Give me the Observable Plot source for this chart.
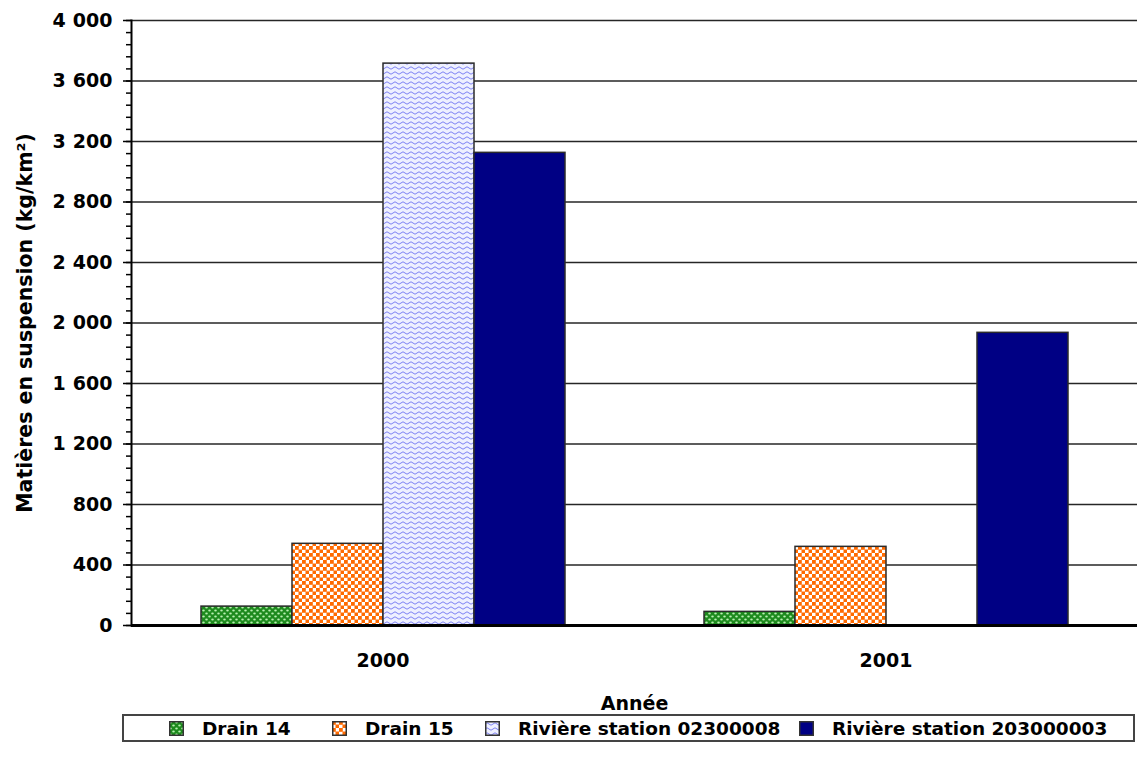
<!DOCTYPE html>
<html>
<head>
<meta charset="utf-8">
<script src="https://cdn.jsdelivr.net/npm/d3@7"></script>
<script src="https://cdn.jsdelivr.net/npm/@observablehq/plot@0.6"></script>
<style>
  body { margin: 0; background: #fff; font-family: "DejaVu Sans", sans-serif; }
  #chart svg { display: block; }
  #legend {
    position: relative;
    box-sizing: border-box;
    margin-left: 122px;
    margin-top: 2px;
    width: 1013px;
    height: 28px;
    border: 2px solid #444;
    font-weight: bold;
    font-size: 18.5px;
    color: #000;
    white-space: nowrap;
  }
  #legend .item { position: absolute; top: 0; height: 24px; display: flex; align-items: center; }
  #legend .item svg { margin-right: 18px; flex-shrink: 0; }
</style>
</head>
<body>
<!-- fill patterns shared by the bars and the legend swatches -->
<svg width="0" height="0" style="position:absolute">
  <defs>
    <pattern id="pat-drain14" width="6" height="6" patternUnits="userSpaceOnUse">
      <rect width="6" height="6" fill="#1d8a1d"/>
      <ellipse cx="1.5" cy="1.5" rx="1.3" ry="1.1" fill="#b8f0b0"/>
      <ellipse cx="4.5" cy="4.5" rx="1.3" ry="1.1" fill="#b8f0b0"/>
    </pattern>
    <pattern id="pat-drain15" width="7" height="7" patternUnits="userSpaceOnUse">
      <rect width="7" height="7" fill="#ffffff"/>
      <rect x="0" y="0" width="3.8" height="3.8" fill="#ff6a00"/>
      <rect x="3.5" y="3.5" width="3.8" height="3.8" fill="#ff6a00"/>
    </pattern>
    <pattern id="pat-riv1" width="8" height="5" patternUnits="userSpaceOnUse">
      <rect width="8" height="5" fill="#eef0ff"/>
      <path d="M0 3 Q2 0.6 4 3 T8 3" fill="none" stroke="#6f73f2" stroke-width="0.9"/>
    </pattern>
    <pattern id="pat-riv2" width="4" height="4" patternUnits="userSpaceOnUse">
      <rect width="4" height="4" fill="#000084"/>
    </pattern>
  </defs>
</svg>
<div id="chart"></div>
<div id="legend"></div>
<script>
// Suspended solids per year and station (kg/km²)
const years = ["2000", "2001"];
const series = ["Drain 14", "Drain 15", "Rivière station 02300008", "Rivière station 203000003"];
const drain14 = [125, 90];
const drain15 = [540, 520];
const riviere02300008 = [3715, null];
const riviere203000003 = [3125, 1935];
const yTicks = [0, 400, 800, 1200, 1600, 2000, 2400, 2800, 3200, 3600, 4000];
const fills = ["url(#pat-drain14)", "url(#pat-drain15)", "url(#pat-riv1)", "url(#pat-riv2)"];

const seriesValues = [drain14, drain15, riviere02300008, riviere203000003];
const rows = [];
years.forEach((year, i) => {
  series.forEach((s, j) => {
    const v = seriesValues[j][i];
    if (v != null) rows.push({year, series: s, value: v});
  });
});

// thousands separated by a space, French style
const fmt = d => d3.format(",")(d).replace(/,/g, "\u2008");

const chart = Plot.plot({
  width: 1137,
  height: 712,
  marginLeft: 130,
  marginRight: 0,
  marginTop: 20,
  marginBottom: 87,
  style: {fontFamily: "'DejaVu Sans', sans-serif", fontWeight: "bold", color: "#000", background: "transparent", overflow: "visible"},
  fx: {domain: years, padding: 0},
  x: {domain: series, paddingInner: 0, paddingOuter: 0.74, axis: null},
  y: {domain: [0, 4000]},
  color: {domain: series, range: fills},
  marks: [
    Plot.gridY(yTicks, {stroke: "#262626", strokeOpacity: 1, strokeWidth: 1.6}),
    Plot.barY(rows, {fx: "year", x: "series", y: "value", fill: "series", stroke: "#2b2b2b", strokeWidth: 1.5, inset: 0}),
    Plot.ruleY([0], {stroke: "#000", strokeWidth: 3}),
    Plot.axisY(d3.range(0, 4001, 80), {tickSize: 5, text: null, label: null, strokeWidth: 1.5}),
    Plot.axisY(yTicks, {
      tickSize: 8, tickPadding: 11, tickFormat: fmt, fontSize: 19, strokeWidth: 1.5,
      label: "Matières en suspension (kg/km²)", labelAnchor: "center", labelArrow: "none", labelOffset: 114
    }),
    Plot.axisFx({anchor: "bottom", tickSize: 0, tickPadding: 28, fontSize: 19, label: null}),
    Plot.text(["Année"], {frameAnchor: "bottom", facet: "super", dy: 84, fontSize: 19, fontWeight: "bold"}),
    Plot.frame({anchor: "left", facet: "super", stroke: "#000", strokeWidth: 2})
  ]
});
document.getElementById("chart").appendChild(chart);

// enlarge the y-axis title relative to the tick labels
d3.select(chart).selectAll("[aria-label='y-axis label'] text").attr("font-size", 20.5);

// legend row below the chart; item offsets inside the box
const legendOffsets = [45, 208, 361, 675];
const legend = d3.select("#legend");
series.forEach((s, i) => {
  const item = legend.append("div").attr("class", "item").style("left", legendOffsets[i] + "px");
  const sw = item.append("svg").attr("width", 15).attr("height", 15);
  sw.append("rect").attr("x", 0.75).attr("y", 0.75).attr("width", 13.5).attr("height", 13.5)
    .attr("fill", fills[i]).attr("stroke", "#333").attr("stroke-width", 1.5);
  item.append("span").text(s);
});
</script>
</body>
</html>
